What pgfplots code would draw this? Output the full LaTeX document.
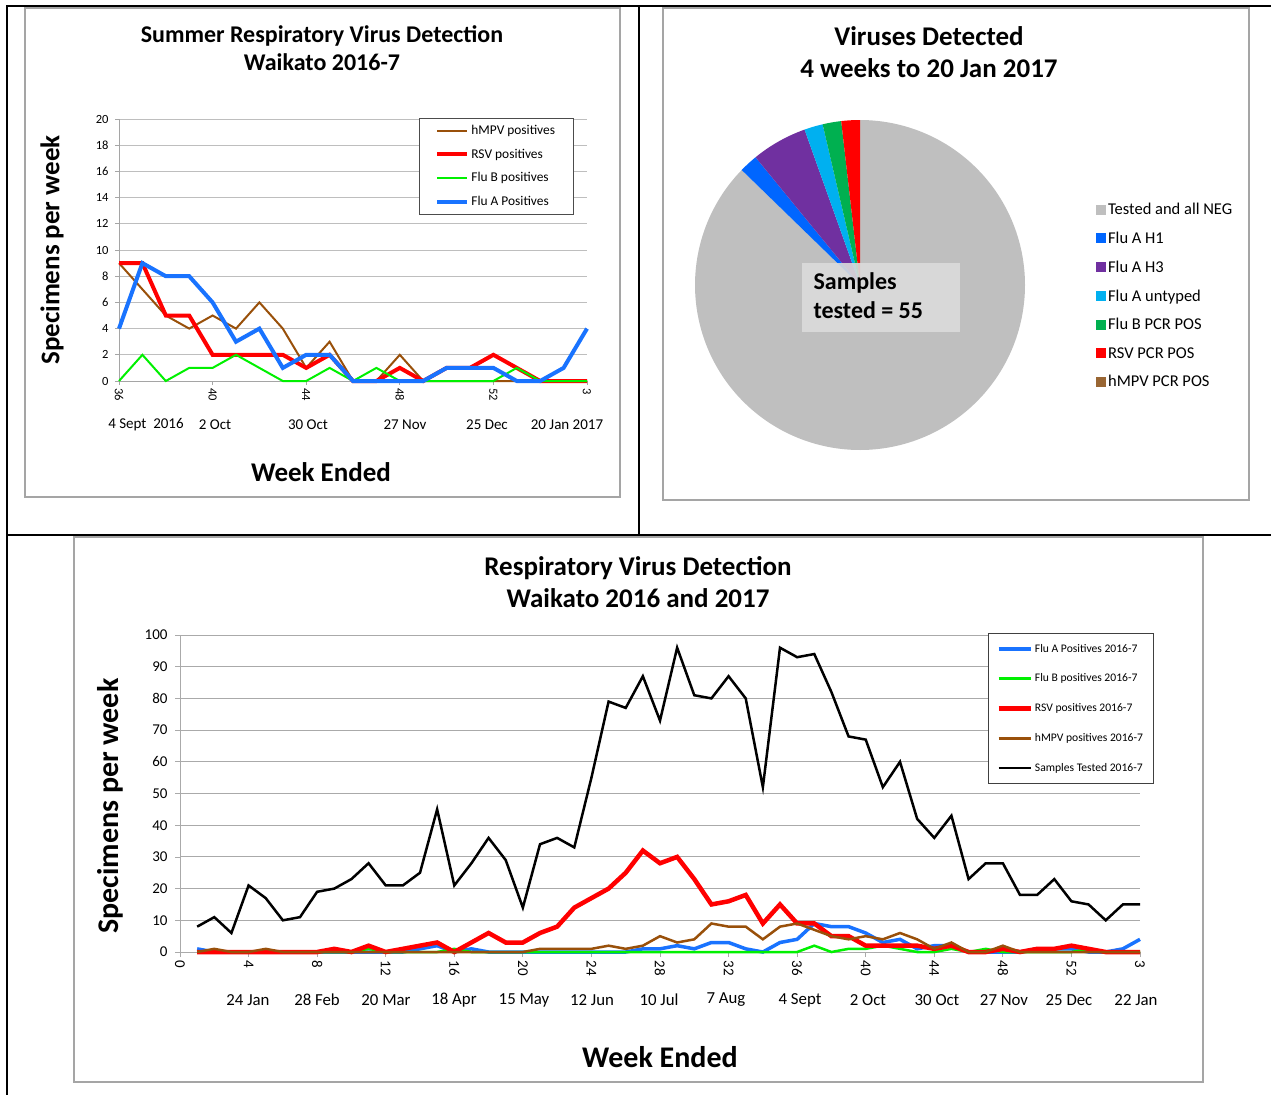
\documentclass[border=0pt]{standalone}
\usepackage{fontspec}
\setmainfont{Carlito}
\usepackage{pgfplots}
\usepackage{pgfplotstable}
\pgfplotsset{compat=1.18}

\definecolor{fluA}{RGB}{25,115,255}
\definecolor{fluB}{RGB}{0,240,0}
\definecolor{rsv}{RGB}{255,0,0}
\definecolor{hmpv}{RGB}{153,80,10}
\definecolor{gridc}{RGB}{190,190,190}
\definecolor{gridb}{RGB}{170,170,170}
\definecolor{boxc}{RGB}{165,165,165}
\definecolor{pNEG}{RGB}{191,191,191}
\definecolor{pHone}{RGB}{0,102,255}
\definecolor{pHthree}{RGB}{112,48,160}
\definecolor{pUT}{RGB}{0,176,240}
\definecolor{pFB}{RGB}{0,176,80}
\definecolor{pRSV}{RGB}{255,0,0}
\definecolor{pHM}{RGB}{153,102,51}

% weekly counts, weeks 1..53 of 2016 then 1..3 of 2017 (plotted at 54..56)
\pgfplotstableread{
w fluA fluB rsv hmpv tested
1 1 0 0 0 8
2 0 0 0 1 11
3 0 0 0 0 6
4 0 0 0 0 21
5 0 0 0 1 17
6 0 0 0 0 10
7 0 0 0 0 11
8 0 0 0 0 19
9 0 0 1 0 20
10 0 0 0 0 23
11 0 1 2 0 28
12 0 0 0 0 21
13 0 0 1 0 21
14 1 0 2 0 25
15 2 0 3 0 45
16 0 1 0 0 21
17 1 0 3 0 28
18 0 0 6 0 36
19 0 0 3 0 29
20 0 0 3 0 14
21 0 0 6 1 34
22 0 0 8 1 36
23 0 0 14 1 33
24 0 0 17 1 55
25 0 0 20 2 79
26 0 0 25 1 77
27 1 0 32 2 87
28 1 0 28 5 73
29 2 0 30 3 96
30 1 0 23 4 81
31 3 0 15 9 80
32 3 0 16 8 87
33 1 0 18 8 80
34 0 0 9 4 52
35 3 0 15 8 96
36 4 0 9 9 93
37 9 2 9 7 94
38 8 0 5 5 82
39 8 1 5 4 68
40 6 1 2 5 67
41 3 2 2 4 52
42 4 1 2 6 60
43 1 0 2 4 42
44 2 0 1 1 36
45 2 1 2 3 43
46 0 0 0 0 23
47 0 1 0 0 28
48 0 0 1 2 28
49 0 0 0 0 18
50 1 0 1 0 18
51 1 0 1 0 23
52 1 0 2 0 16
53 0 1 1 0 15
54 0 0 0 0 10
55 1 0 0 0 15
56 4 0 0 0 15
}\yeartable

\pgfplotstableread{
w hmpv rsv fluB fluA
36 9 9 0 4
37 7 9 2 9
38 5 5 0 8
39 4 5 1 8
40 5 2 1 6
41 4 2 2 3
42 6 2 1 4
43 4 2 0 1
44 1 1 0 2
45 3 2 1 2
46 0 0 0 0
47 0 0 1 0
48 2 1 0 0
49 0 0 0 0
50 0 1 0 1
51 0 1 0 1
52 0 2 0 1
53 0 1 1 0
54 0 0 0 0
55 0 0 0 1
56 0 0 0 4
}\summertable

% pie counts, 4 weeks to 20 Jan 2017
\def\nNEG{48}
\def\nHone{1}
\def\nHthree{3}
\def\nUT{1}
\def\nFB{1}
\def\nRSV{1}
\def\nHM{0}
\pgfmathsetmacro\per{360/(\nNEG+\nHone+\nHthree+\nUT+\nFB+\nRSV+\nHM)}
\pgfmathsetmacro\aA{90}
\pgfmathsetmacro\aB{\aA-\nNEG*\per}
\pgfmathsetmacro\aC{\aB-\nHone*\per}
\pgfmathsetmacro\aD{\aC-\nHthree*\per}
\pgfmathsetmacro\aE{\aD-\nUT*\per}
\pgfmathsetmacro\aF{\aE-\nFB*\per}
\pgfmathsetmacro\aG{\aF-\nRSV*\per}

\begin{document}
\begin{tikzpicture}
\useasboundingbox (0pt,0pt) rectangle (1271pt,-1095pt);

% outer table rules
\draw[line width=2pt] (7pt,-6pt) -- (1271pt,-6pt);
\draw[line width=2pt] (7pt,-5pt) -- (7pt,-1095pt);
\draw[line width=2pt] (639pt,-6pt) -- (639pt,-535pt);
\draw[line width=2pt] (7pt,-535pt) -- (1271pt,-535pt);

% chart frames
\draw[boxc, line width=1.2pt] (25pt,-8pt) rectangle (620pt,-497pt);
\draw[boxc, line width=1.2pt] (663pt,-8pt) rectangle (1249pt,-500pt);
\draw[boxc, line width=1.2pt] (74pt,-537pt) rectangle (1203pt,-1082pt);

%================ top left =================
\node[font=\bfseries\fontsize{24}{28}\selectfont, align=center] at (322pt,-48pt)
  {Summer Respiratory Virus Detection\\Waikato 2016-7};
\begin{axis}[
  at={(119pt,-381pt)}, anchor=south west,
  scale only axis, width=468pt, height=262pt,
  xmin=36, xmax=56, ymin=0, ymax=20,
  clip=false,
  axis x line*=bottom, axis y line*=left,
  axis line style={draw=boxc, line width=1pt, -},
  xtick={36,40,44,48,52,56}, xticklabels={36,40,44,48,52,3},
  ytick={0,2,...,20},
  ymajorgrids, grid style={draw=gridc, line width=1pt},
  tick style={draw=boxc, line width=0.8pt},
  tick align=outside, major tick length=4pt,
  /pgf/number format/assume math mode=true,
  xticklabel style={rotate=-90, anchor=west, font=\fontsize{12.5}{13}\selectfont},
  yticklabel style={font=\fontsize{12.5}{13}\selectfont, xshift=-3pt},
  legend style={at={(0.641,1.004)}, anchor=north west, draw=black!70, line width=0.8pt,
    font=\fontsize{13.4}{15}\selectfont, row sep=8.8pt, inner xsep=16pt, inner ysep=5pt},
  legend image code/.code={\draw[#1] (0pt,0pt) -- (30pt,0pt);},
  legend cell align=left,
]
\addplot[hmpv, line width=2pt] table[x=w, y=hmpv] {\summertable};
\addlegendentry{hMPV positives}
\addplot[rsv, line width=4pt] table[x=w, y=rsv] {\summertable};
\addlegendentry{RSV positives}
\addplot[fluB, line width=2pt] table[x=w, y=fluB] {\summertable};
\addlegendentry{Flu B positives}
\addplot[fluA, line width=4pt] table[x=w, y=fluA] {\summertable};
\addlegendentry{Flu A Positives}
\end{axis}
\node[font=\fontsize{15}{17}\selectfont] at (146pt,-425pt) {4 Sept\ \ 2016};
\node[font=\fontsize{15}{17}\selectfont] at (215pt,-425pt) {2 Oct};
\node[font=\fontsize{15}{17}\selectfont] at (308pt,-425pt) {30 Oct};
\node[font=\fontsize{15}{17}\selectfont] at (405pt,-425pt) {27 Nov};
\node[font=\fontsize{15}{17}\selectfont] at (487pt,-425pt) {25 Dec};
\node[font=\fontsize{15}{17}\selectfont] at (567pt,-425pt) {20 Jan 2017};
\node[font=\bfseries\fontsize{27}{30}\selectfont] at (321pt,-472pt) {Week Ended};
\node[font=\bfseries\fontsize{27}{30}\selectfont, rotate=90] at (52pt,-250pt) {Specimens per week};

%================ top right (pie) =================
\node[font=\bfseries\fontsize{27}{32}\selectfont, align=center] at (929pt,-52pt)
  {Viruses Detected\\4 weeks to 20 Jan 2017};
\begin{axis}[
  at={(695pt,-450pt)}, anchor=south west,
  scale only axis, width=330pt, height=330pt,
  xmin=-1, xmax=1, ymin=-1, ymax=1,
  hide axis, clip=false,
  legend style={at={(1.215,0.755)}, anchor=north west, draw=none, fill=none,
    font=\fontsize{16.5}{18}\selectfont, row sep=11.9pt, inner sep=0pt},
  legend image code/.code={\fill[#1] (0pt,-5pt) rectangle (10pt,5pt);},
  legend cell align=left,
]
\addplot[fill=pNEG, draw=none, domain=\aB:\aA, samples=200] ({cos(x)},{sin(x)}) -- (axis cs:0,0) -- cycle;
\addlegendentry{Tested and all NEG}
\addplot[fill=pHone, draw=none, domain=\aC:\aB, samples=10] ({cos(x)},{sin(x)}) -- (axis cs:0,0) -- cycle;
\addlegendentry{Flu A H1}
\addplot[fill=pHthree, draw=none, domain=\aD:\aC, samples=20] ({cos(x)},{sin(x)}) -- (axis cs:0,0) -- cycle;
\addlegendentry{Flu A H3}
\addplot[fill=pUT, draw=none, domain=\aE:\aD, samples=10] ({cos(x)},{sin(x)}) -- (axis cs:0,0) -- cycle;
\addlegendentry{Flu A untyped}
\addplot[fill=pFB, draw=none, domain=\aF:\aE, samples=10] ({cos(x)},{sin(x)}) -- (axis cs:0,0) -- cycle;
\addlegendentry{Flu B PCR POS}
\addplot[fill=pRSV, draw=none, domain=\aG:\aF, samples=10] ({cos(x)},{sin(x)}) -- (axis cs:0,0) -- cycle;
\addlegendentry{RSV PCR POS}
\addlegendimage{fill=pHM, draw=none}
\addlegendentry{hMPV PCR POS}
\end{axis}
\fill[gray!28, opacity=0.9] (802pt,-263pt) rectangle (960pt,-332pt);
\node[font=\bfseries\fontsize{24}{29}\selectfont, align=left, anchor=north west] at (810pt,-269pt)
  {Samples\\tested = 55};

%================ bottom =================
\node[font=\bfseries\fontsize{27}{32}\selectfont, align=center] at (638pt,-582pt)
  {Respiratory Virus Detection\\Waikato 2016 and 2017};
\begin{axis}[
  at={(180pt,-952pt)}, anchor=south west,
  scale only axis, width=960pt, height=317pt,
  xmin=0, xmax=56, ymin=0, ymax=100,
  clip=false,
  axis x line*=bottom, axis y line*=left,
  axis line style={draw=gridb, line width=1pt, -},
  xtick={0,4,...,52,56}, xticklabels={0,4,8,12,16,20,24,28,32,36,40,44,48,52,3},
  ytick={0,10,...,100},
  ymajorgrids, grid style={draw=gridb, line width=1pt},
  tick style={draw=gridb, line width=0.8pt},
  tick align=outside, major tick length=5pt,
  /pgf/number format/assume math mode=true,
  xticklabel style={rotate=-90, anchor=west, font=\fontsize{15}{16}\selectfont},
  yticklabel style={font=\fontsize{15}{16}\selectfont, xshift=-4pt},
  legend style={at={(0.8417,1.006)}, anchor=north west, draw=black!75, line width=0.8pt,
    font=\fontsize{11.6}{13}\selectfont, row sep=16.3pt, inner xsep=8pt, inner ysep=8.5pt},
  legend image code/.code={\draw[#1] (0pt,0pt) -- (32pt,0pt);},
  legend cell align=left,
]
\addplot[fluA, line width=3.5pt] table[x=w, y=fluA] {\yeartable};
\addlegendentry{Flu A Positives 2016-7}
\addplot[fluB, line width=2.5pt] table[x=w, y=fluB] {\yeartable};
\addlegendentry{Flu B positives 2016-7}
\addplot[rsv, line width=4.5pt] table[x=w, y=rsv] {\yeartable};
\addlegendentry{RSV positives 2016-7}
\addplot[hmpv, line width=2.5pt] table[x=w, y=hmpv] {\yeartable};
\addlegendentry{hMPV positives 2016-7}
\addplot[black, line width=2.5pt] table[x=w, y=tested] {\yeartable};
\addlegendentry{Samples Tested 2016-7}
\end{axis}
\foreach \xx/\lab in {248/24 Jan, 317/28 Feb, 386/20 Mar, 454/18 Apr, 524/15 May, 592/12 Jun, 659/10 Jul, 726/7 Aug, 800/4 Sept, 868/2 Oct, 937/30 Oct, 1004/27 Nov, 1069/25 Dec, 1136/22 Jan}
  \node[font=\fontsize{16.8}{18}\selectfont] at (\xx pt,-1000pt) {\lab};
\node[font=\bfseries\fontsize{30}{33}\selectfont] at (660pt,-1057pt) {Week Ended};
\node[font=\bfseries\fontsize{30}{33}\selectfont, rotate=90] at (110pt,-806pt) {Specimens per week};
\end{tikzpicture}
\end{document}
